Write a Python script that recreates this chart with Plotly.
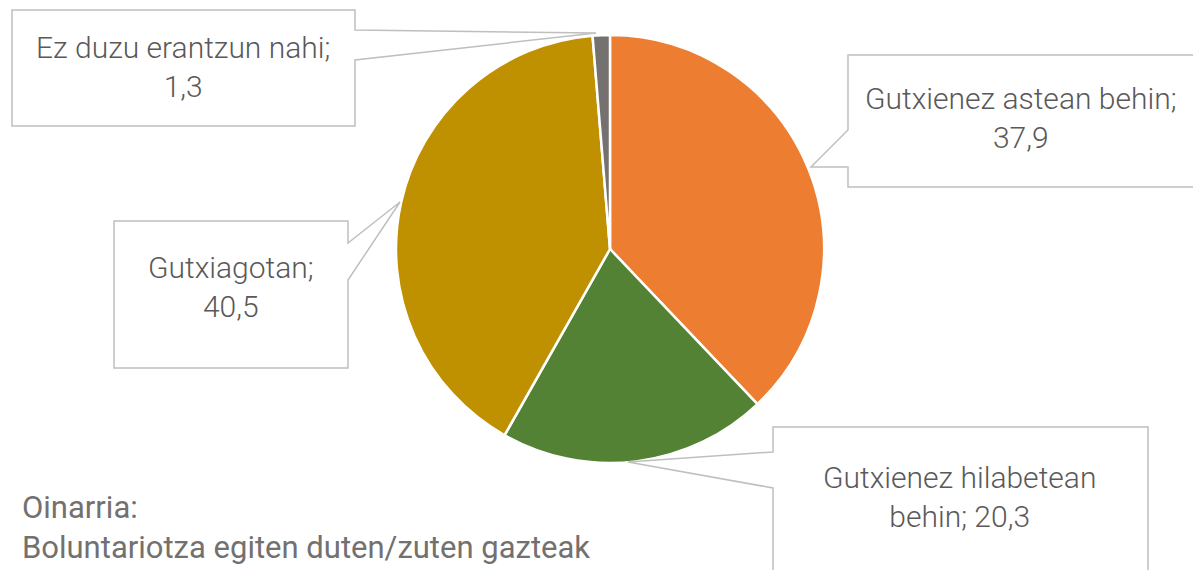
import plotly.graph_objects as go

# ---- data ----
categories = ["Gutxienez astean behin", "Gutxienez hilabetean behin", "Gutxiagotan", "Ez duzu erantzun nahi"]
values = [37.9, 20.3, 40.5, 1.3]
colors = ["#ED7D31", "#548235", "#BF9000", "#767171"]
# how each callout label is wrapped ({v} = value with decimal comma)
label_templates = [
    "Gutxienez astean behin;<br>{v}",
    "Gutxienez hilabetean<br>behin; {v}",
    "Gutxiagotan;<br>{v}",
    "Ez duzu erantzun nahi;<br>{v}",
]
footer_lines = ["Oinarria:", "Boluntariotza egiten duten/zuten gazteak"]

W, H = 1193, 570
FONT = "Roboto"
TXT = "#595959"
FOOT = "#737070"
BORDER = "#BFBFBF"


def px(x):
    return x / W


def py(y):
    return 1 - y / H


# pie geometry (pixels)
cx, cy, r = 610, 249, 214

fig = go.Figure(
    go.Pie(
        labels=categories,
        values=values,
        sort=False,
        direction="clockwise",
        rotation=0,
        marker=dict(colors=colors, line=dict(color="white", width=2.5)),
        textinfo="none",
        hoverinfo="label+value",
        showlegend=False,
        domain=dict(x=[px(cx - r), px(cx + r)], y=[py(cy + r), py(cy - r)]),
    )
)

# callout geometry: box (x0,y0,x1,y1), pointer side, joint ys, tip, text centre
callouts = [
    # astean
    dict(box=(848, 55, 1215, 187), side="left", j=(130, 167), tip=(811, 167), tc=(1021, 118)),
    # hilabetean
    dict(box=(773, 427, 1148, 600), side="left", j=(452, 488), tip=(628, 462), tc=(960, 497)),
    # gutxiagotan
    dict(box=(114, 221, 348, 368), side="right", j=(243, 280), tip=(400, 202), tc=(231, 287)),
    # ez duzu
    dict(box=(12, 10, 355, 126), side="right", j=(30, 60), tip=(596, 33), tc=(183, 67)),
]

shapes = []
annotations = []
for i, c in enumerate(callouts):
    x0, y0, x1, y1 = c["box"]
    ja, jb = c["j"]
    tx, ty = c["tip"]
    if c["side"] == "left":
        pts = [(x0, y0), (x1, y0), (x1, y1), (x0, y1), (x0, jb), (tx, ty), (x0, ja)]
    else:
        pts = [(x0, y0), (x1, y0), (x1, ja), (tx, ty), (x1, jb), (x1, y1), (x0, y1)]
    path = "M " + " L ".join(f"{px(a):.5f},{py(b):.5f}" for a, b in pts) + " Z"
    shapes.append(dict(type="path", path=path, xref="paper", yref="paper",
                       fillcolor="white", line=dict(color=BORDER, width=1.5), layer="above"))
    vstr = f"{values[i]:.1f}".replace(".", ",")
    annotations.append(dict(
        text=label_templates[i].format(v=vstr),
        x=px(c["tc"][0]), y=py(c["tc"][1]), xref="paper", yref="paper",
        xanchor="center", yanchor="middle", showarrow=False, align="center",
        font=dict(family=FONT, size=30, color=TXT, weight=300),
    ))

annotations.append(dict(
    text="<br>".join(footer_lines),
    x=px(20), y=py(527), xref="paper", yref="paper",
    xanchor="left", yanchor="middle", showarrow=False, align="left",
    font=dict(family=FONT, size=31, color=FOOT),
))

fig.update_layout(
    width=W, height=H,
    margin=dict(l=0, r=0, t=0, b=0),
    paper_bgcolor="white", plot_bgcolor="white",
    shapes=shapes, annotations=annotations,
)

fig.write_html("out.html", config={"displayModeBar": False},
               post_script="document.body.style.margin='0';")
